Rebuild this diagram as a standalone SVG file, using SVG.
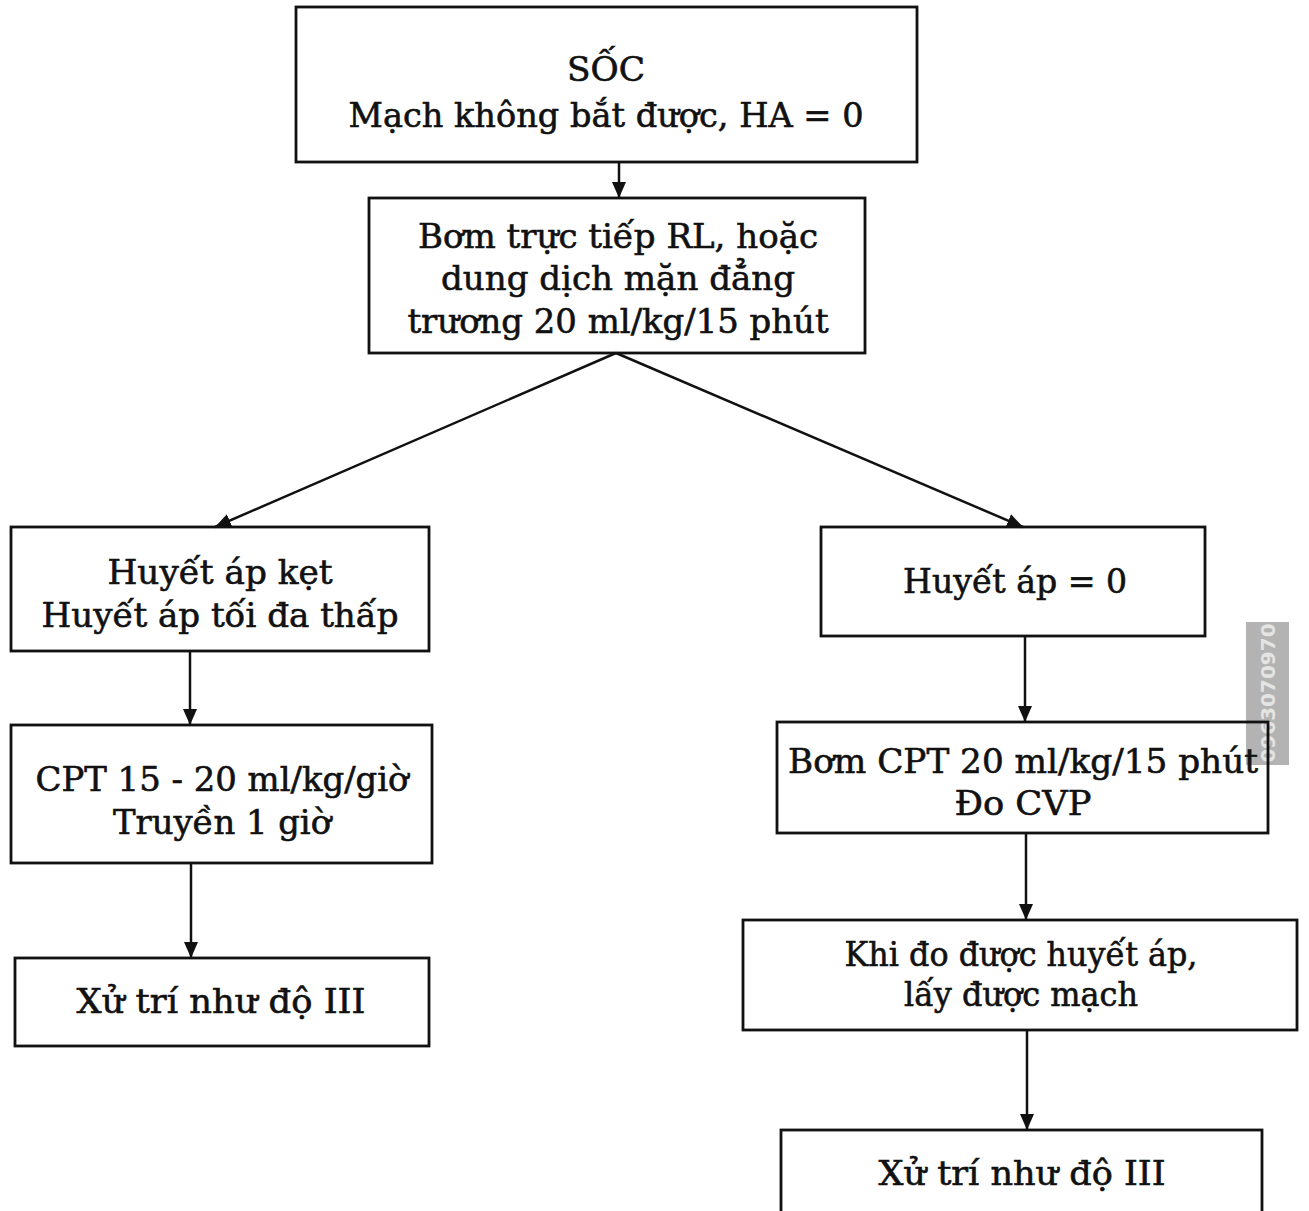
<svg xmlns="http://www.w3.org/2000/svg" width="1309" height="1211" viewBox="0 0 1309 1211">
<style>
.box{fill:none;stroke:#111;stroke-width:2.8}
.t{font-family:"DejaVu Serif","Liberation Serif",serif;font-size:33px;fill:#111;stroke:#111;stroke-width:0.6;text-anchor:middle}
.c{stroke:#111;stroke-width:2.5;fill:none;marker-end:url(#ah)}
.wm{font-family:"DejaVu Sans","Liberation Sans",sans-serif;font-size:20px;font-weight:bold;fill:#e4e4e4;text-anchor:middle}
</style>
<defs>
<marker id="ah" markerUnits="userSpaceOnUse" markerWidth="16" markerHeight="14" refX="16" refY="7" orient="auto">
<path d="M0,0 L16,7 L0,14 z" fill="#111"/>
</marker>
</defs>
<rect x="0" y="0" width="1309" height="1211" fill="#fff"/>
<g id="watermark">
<rect x="1246" y="622" width="43" height="143" fill="#b3b3b3"/>
<text class="wm" transform="translate(1275,693) rotate(-90)">0963070970</text>
</g>
<g id="connectors">
<line class="c" x1="619" y1="162" x2="619" y2="198"/>
<line class="c" x1="616" y1="353" x2="215" y2="527"/>
<line class="c" x1="616" y1="353" x2="1023" y2="527"/>
<line class="c" x1="190" y1="651" x2="190" y2="725"/>
<line class="c" x1="191" y1="863" x2="191" y2="958"/>
<line class="c" x1="1025" y1="636" x2="1025" y2="722"/>
<line class="c" x1="1026" y1="833" x2="1026" y2="920"/>
<line class="c" x1="1027" y1="1030" x2="1027" y2="1130"/>
</g>
<g id="n1">
<rect class="box" x="296" y="7" width="621" height="155"/>
<text class="t" x="606" y="81" textLength="78" lengthAdjust="spacingAndGlyphs">SỐC</text>
<text class="t" x="606" y="127" textLength="515" lengthAdjust="spacingAndGlyphs">Mạch không bắt được, HA = 0</text>
</g>
<g id="n2">
<rect class="box" x="369" y="198" width="496" height="155"/>
<text class="t" x="618" y="248" textLength="400" lengthAdjust="spacingAndGlyphs">Bơm trực tiếp RL, hoặc</text>
<text class="t" x="618" y="290" textLength="354" lengthAdjust="spacingAndGlyphs">dung dịch mặn đẳng</text>
<text class="t" x="618" y="333" textLength="421" lengthAdjust="spacingAndGlyphs">trương 20 ml/kg/15 phút</text>
</g>
<g id="n3">
<rect class="box" x="11" y="527" width="418" height="124"/>
<text class="t" x="220" y="584" textLength="225" lengthAdjust="spacingAndGlyphs">Huyết áp kẹt</text>
<text class="t" x="220" y="627" textLength="357" lengthAdjust="spacingAndGlyphs">Huyết áp tối đa thấp</text>
</g>
<g id="n4">
<rect class="box" x="11" y="725" width="421" height="138"/>
<text class="t" x="222" y="791" textLength="373" lengthAdjust="spacingAndGlyphs">CPT 15 - 20 ml/kg/giờ</text>
<text class="t" x="222" y="834" textLength="218" lengthAdjust="spacingAndGlyphs">Truyền 1 giờ</text>
</g>
<g id="n5">
<rect class="box" x="15" y="958" width="414" height="88"/>
<text class="t" x="221" y="1013" textLength="289" lengthAdjust="spacingAndGlyphs">Xử trí như độ III</text>
</g>
<g id="n6">
<rect class="box" x="821" y="527" width="384" height="109"/>
<text class="t" x="1015" y="593" textLength="224" lengthAdjust="spacingAndGlyphs">Huyết áp = 0</text>
</g>
<g id="n7">
<rect class="box" x="777" y="722" width="491" height="111"/>
<text class="t" x="1023" y="773" textLength="470" lengthAdjust="spacingAndGlyphs">Bơm CPT 20 ml/kg/15 phút</text>
<text class="t" x="1023" y="815" textLength="137" lengthAdjust="spacingAndGlyphs">Đo CVP</text>
</g>
<g id="n8">
<rect class="box" x="743" y="920" width="554" height="110"/>
<text class="t" x="1021" y="966" textLength="353" lengthAdjust="spacingAndGlyphs">Khi đo được huyết áp,</text>
<text class="t" x="1021" y="1006" textLength="234" lengthAdjust="spacingAndGlyphs">lấy được mạch</text>
</g>
<g id="n9">
<rect class="box" x="781" y="1130" width="481" height="100"/>
<text class="t" x="1022" y="1185" textLength="287" lengthAdjust="spacingAndGlyphs">Xử trí như độ III</text>
</g>
</svg>
